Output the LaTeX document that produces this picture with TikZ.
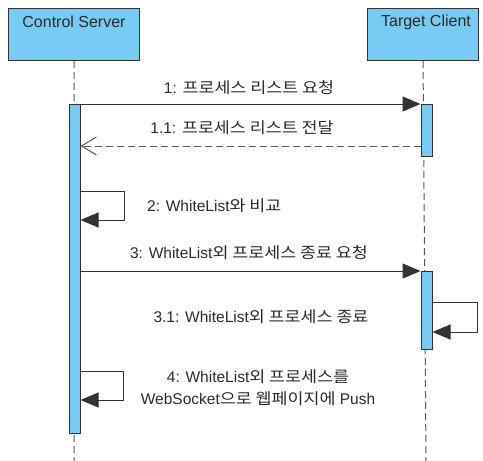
\documentclass[tikz,border=0pt]{standalone}
\usepackage{fontspec}
\setmainfont{Liberation Sans}
\newfontfamily\cjk[FakeStretch=1.12]{Noto Sans CJK KR}
\usetikzlibrary{arrows.meta}
\definecolor{actfill}{HTML}{78CBF2}
\definecolor{txt}{HTML}{2A2A2A}
\definecolor{edge}{HTML}{333333}
\begin{document}
\begin{tikzpicture}[x=1pt,y=-1pt,
  lifebox/.style={draw=edge, fill=actfill, line width=1.1pt, minimum width=131pt, minimum height=52pt, inner sep=0pt, anchor=north west},
  actbar/.style={draw=edge, fill=actfill, line width=1pt, minimum width=11pt, inner sep=0pt, anchor=north},
  lifeline/.style={draw=black!65, dash pattern=on 7pt off 4pt, line width=1pt},
  msg/.style={draw=edge, line width=1pt, -{Triangle[length=18pt,width=15pt]}},
  ret/.style={draw=black!65, line width=1pt, dash pattern=on 7pt off 4pt, -{Straight Barb[length=15pt,width=18pt,line width=1pt]}},
  lbl/.style={text=txt, font=\fontsize{15.5}{22}\selectfont, inner sep=0pt, align=center},
  title/.style={text=txt, font=\fontsize{16}{18}\selectfont, inner sep=0pt}]
\useasboundingbox (0,0) rectangle (483,461);
% participants
\node[lifebox] (cs) at (8,8) {};
\node[lifebox, minimum width=111pt] (tc) at (367,8) {};
\node[title] (cst) at (74,22) {Control Server};
\node[title] (tct) at (426,22) {Target Client};
% lifeline ends
\coordinate (csend) at (74,461);
\coordinate (tcend) at (426,461);
\draw[lifeline] (cs.south) -- (csend);
\draw[lifeline] (tc.south) -- (tcend);
% activation bars
\node[actbar, minimum height=329pt] (a1) at (74.5,104) {};
\node[actbar, minimum height=52pt] (b1) at (426.5,104) {};
\node[actbar, minimum height=78pt] (b2) at (426.5,271) {};
% message 1
\draw[msg] (a1.north east) -- (b1.north west);
\node[lbl] (l1) at (249,88) {1: {\cjk 프로세스 리스트 요청}};
% message 1.1 (return)
\coordinate (r1s) at (b1.west |- 0,146);
\coordinate (r1e) at (a1.east |- 0,146);
\draw[ret] (r1s) -- (r1e);
\node[lbl] (l11) at (242,128) {1.1: {\cjk 프로세스 리스트 전달}};
% self message 2
\coordinate (s2a) at (a1.east |- 0,191);
\coordinate (s2b) at (a1.east |- 0,220);
\draw[msg] (s2a) -- ++(44,0) |- (s2b);
\node[lbl, anchor=west] (l2) at (147,206) {2: WhiteList{\cjk 와 비교}};
% message 3
\draw[msg] (a1.east |- b2.north) -- (b2.north west);
\node[lbl] (l3) at (249,253) {3: WhiteList{\cjk 외 프로세스 종료 요청}};
% self message 3.1
\coordinate (s3a) at (b2.east |- 0,302);
\coordinate (s3b) at (b2.east |- 0,332);
\draw[msg] (s3a) -- ++(45,0) |- (s3b);
\node[lbl] (l31) at (261,317) {3.1: WhiteList{\cjk 외 프로세스 종료}};
% self message 4
\coordinate (s4a) at (a1.east |- 0,371);
\coordinate (s4b) at (a1.east |- 0,400);
\draw[msg] (s4a) -- ++(43,0) |- (s4b);
\node[lbl] (l4) at (258,388) {4: WhiteList{\cjk 외 프로세스를}\\WebSocket{\cjk 으로 웹페이지에} Push};
\end{tikzpicture}
\end{document}
